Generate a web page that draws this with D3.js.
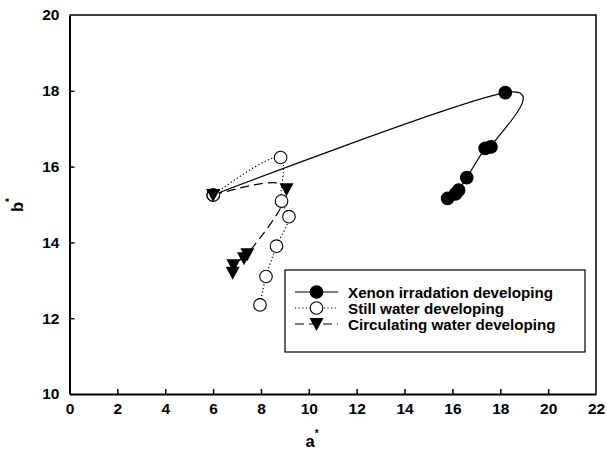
<!DOCTYPE html>
<html>
<head>
<meta charset="utf-8">
<script src="https://cdn.jsdelivr.net/npm/d3@7"></script>
<style>
  body { margin: 0; background: #fff; }
  svg text { font-family: "Liberation Sans", Arial, sans-serif; font-weight: bold; }
</style>
</head>
<body>
<div id="chart"></div>
<script>
// a* / b* values
var xenonA = [6.0, 18.21, 17.61, 17.37, 16.6, 16.26, 16.13, 15.8];
var xenonB = [15.25, 17.95, 16.52, 16.48, 15.71, 15.38, 15.28, 15.16];
var stillA = [6.01, 8.82, 8.86, 9.17, 8.65, 8.21, 7.96];
var stillB = [15.25, 16.24, 15.09, 14.68, 13.9, 13.1, 12.35];
var circA = [6.0, 9.07, 7.43, 7.29, 6.85, 6.82];
var circB = [15.25, 15.4, 13.69, 13.58, 13.4, 13.2];
var seriesNames = ["Xenon irradation developing", "Still water developing", "Circulating water developing"];
var xTicks = d3.range(0, 23, 2);
var yTicks = d3.range(10, 21, 2);

var W = 607, H = 466;
var plotL = 69.5, plotR = 596, plotT = 15, plotB = 394;

var svg = d3.select("#chart").append("svg").attr("width", W).attr("height", H);

var x = d3.scaleLinear().domain([0, 22]).range([plotL, plotR]);
var y = d3.scaleLinear().domain([10, 20]).range([plotB, plotT]);

// frame (top and right)
svg.append("path")
  .attr("d", "M" + plotL + "," + plotT + "H" + plotR + "V" + plotB)
  .attr("fill", "none").attr("stroke", "#000").attr("stroke-width", 1.5);

// x axis
var gx = svg.append("g").attr("transform", "translate(0," + plotB + ")")
  .call(d3.axisBottom(x).tickValues(xTicks).tickSizeInner(-5).tickSizeOuter(0).tickPadding(9));
gx.select(".domain").attr("stroke-width", 2);
gx.selectAll(".tick line").attr("stroke-width", 1.5);
gx.selectAll(".tick text").style("font-size", "15.5px").attr("fill", "#000");
gx.selectAll(".tick").filter(function(d) { return d === 0 || d === 22; }).select("line").remove();

// y axis
var gy = svg.append("g").attr("transform", "translate(" + plotL + ",0)")
  .call(d3.axisLeft(y).tickValues(yTicks).tickSizeInner(-5).tickSizeOuter(0).tickPadding(10));
gy.select(".domain").attr("stroke-width", 2);
gy.selectAll(".tick line").attr("stroke-width", 1.5);
gy.selectAll(".tick text").style("font-size", "15.5px").attr("fill", "#000");
gy.selectAll(".tick").filter(function(d) { return d === 10 || d === 20; }).select("line").remove();

// axis titles
var ax = svg.append("text").attr("x", 312).attr("y", 447).attr("text-anchor", "middle").style("font-size", "16.5px");
ax.append("tspan").text("a");
ax.append("tspan").attr("dy", -10).style("font-size", "10px").text("*");

var by = svg.append("text").attr("transform", "translate(23,205) rotate(-90)")
  .attr("text-anchor", "middle").style("font-size", "16.5px");
by.append("tspan").text("b");
by.append("tspan").attr("dy", -10).style("font-size", "10px").text("*");

function pts(a, b) { return a.map(function(v, i) { return [v, b[i]]; }); }

function makeLine(curve) {
  return d3.line()
    .x(function(d) { return x(d[0]); })
    .y(function(d) { return y(d[1]); })
    .curve(curve);
}

var series = [
  { data: pts(xenonA, xenonB), dash: null, marker: "fill", curve: d3.curveCatmullRom.alpha(0) },
  { data: pts(stillA, stillB), dash: "1.2,2.4", marker: "open", curve: d3.curveCatmullRom.alpha(0.5) },
  { data: pts(circA, circB), dash: "9,5", marker: "tri", curve: d3.curveNatural }
];

var triPath = "M-7,-6L7,-6L0,7Z";

series.forEach(function(s) {
  svg.append("path").datum(s.data)
    .attr("d", makeLine(s.curve))
    .attr("fill", "none").attr("stroke", "#000").attr("stroke-width", 1.2)
    .attr("stroke-dasharray", s.dash);
});

function drawMarker(g, type, px, py) {
  if (type === "tri") {
    g.append("path").attr("d", triPath).attr("transform", "translate(" + px + "," + py + ")")
      .attr("fill", "#000");
  } else {
    g.append("circle").attr("cx", px).attr("cy", py).attr("r", 6.3)
      .attr("fill", type === "fill" ? "#000" : "#fff").attr("stroke", "#000").attr("stroke-width", 1.1);
  }
}

series.forEach(function(s) {
  var g = svg.append("g");
  s.data.forEach(function(d) { drawMarker(g, s.marker, x(d[0]), y(d[1])); });
});

// legend
var lg = svg.append("g");
lg.append("rect").attr("x", 285).attr("y", 270).attr("width", 300).attr("height", 82)
  .attr("fill", "#fff").attr("stroke", "#000").attr("stroke-width", 1.2);
var rows = [292, 308, 324];
series.forEach(function(s, i) {
  lg.append("line").attr("x1", 295).attr("x2", 338).attr("y1", rows[i]).attr("y2", rows[i])
    .attr("stroke", "#000").attr("stroke-width", 1.2).attr("stroke-dasharray", s.dash);
  drawMarker(lg, s.marker, 316.5, rows[i]);
  lg.append("text").attr("x", 348).attr("y", rows[i] + 5.5).style("font-size", "15.2px").text(seriesNames[i]);
});
</script>
</body>
</html>
